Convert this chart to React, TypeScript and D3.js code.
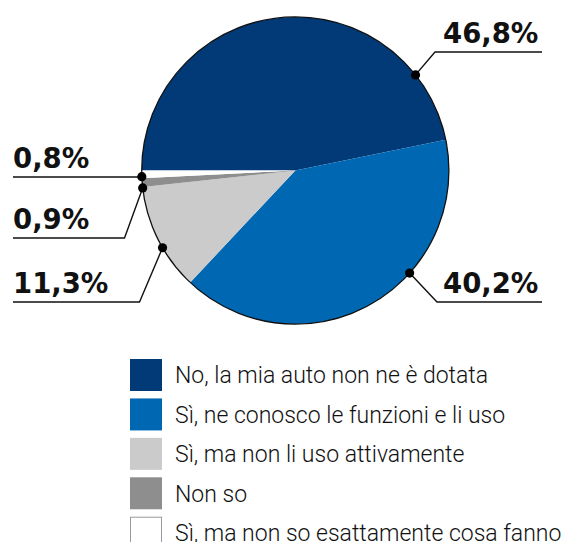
import React from "react";
import * as d3 from "d3";

const categories = [
  "No, la mia auto non ne è dotata",
  "Sì, ne conosco le funzioni e li uso",
  "Sì, ma non li uso attivamente",
  "Non so",
  "Sì, ma non so esattamente cosa fanno",
];
const values = [46.8, 40.2, 11.3, 0.9, 0.8];
const valueLabels = ["46,8%", "40,2%", "11,3%", "0,9%", "0,8%"];
const colors = ["#023a78", "#0068b2", "#cbcbcb", "#8e8e8e", "#ffffff"];

// label layout: anchor angle (deg, clockwise from top), elbow, line y, label side
const labelLayout = [
  { angle: 51.5, elbowX: 435, lineY: 52, side: "right" },
  { angle: 131.9, elbowX: 437, lineY: 302, side: "right" },
  { angle: 239.8, elbowX: 139.5, lineY: 302, side: "left" },
  { angle: 263.5, elbowX: 124.5, lineY: 238, side: "left" },
  { angle: 267.7, elbowX: 141.7, lineY: 177, side: "left" },
];

const W = 568;
const H = 542;
const cx = 295.3;
const cy = 170.5;
const R = 153.6;

export default function App() {
  const pie = d3
    .pie<number>()
    .sort(null)
    .startAngle(-Math.PI / 2)
    .endAngle((3 * Math.PI) / 2)
    .value((d) => d);
  const arcs = pie(values);
  const arc = d3.arc<d3.PieArcDatum<number>>().innerRadius(0).outerRadius(R);

  const legendY = d3.scaleLinear().domain([0, 1]).range([359, 398.43]);

  return (
    <svg
      width={W}
      height={H}
      style={{ position: "absolute", left: 0, top: 0, background: "#fff" }}
    >
      <g transform={`translate(${cx},${cy})`}>
        {arcs.map((a, i) => (
          <path key={i} d={arc(a) || ""} fill={colors[i]} stroke="none" />
        ))}
        <circle r={R} fill="none" stroke="#111" strokeWidth={1.3} />
      </g>
      {labelLayout.map((l, i) => {
        const t = (l.angle * Math.PI) / 180;
        const px = cx + R * Math.sin(t);
        const py = cy - R * Math.cos(t);
        const right = l.side === "right";
        const endX = right ? 542 : 13;
        const pts = `${px},${py} ${l.elbowX},${l.lineY} ${endX},${l.lineY}`;
        return (
          <g key={i}>
            <polyline points={pts} fill="none" stroke="#111" strokeWidth={1.4} />
            <circle cx={px} cy={py} r={4.6} fill="#000" />
            <text
              x={right ? 443 : 13}
              y={l.lineY - 9.5}
              fontFamily="DejaVu Sans"
              fontWeight="bold"
              fontSize={27.5}
              fill="#111"
            >
              {valueLabels[i]}
            </text>
          </g>
        );
      })}
      {categories.map((c, i) => (
        <g key={c} transform={`translate(130,${legendY(i)})`}>
          <rect
            x={i === 4 ? 0.5 : 0}
            y={i === 4 ? 0.5 : 0}
            width={i === 4 ? 31 : 32}
            height={i === 4 ? 31 : 32}
            fill={colors[i]}
            stroke={i === 4 ? "#9a9a9a" : "none"}
            strokeWidth={1}
          />
          <text
            x={45}
            y={24.3}
            fontFamily="Roboto"
            fontWeight={300}
            fontSize={23}
            fill="#111"
          >
            {c}
          </text>
        </g>
      ))}
    </svg>
  );
}
